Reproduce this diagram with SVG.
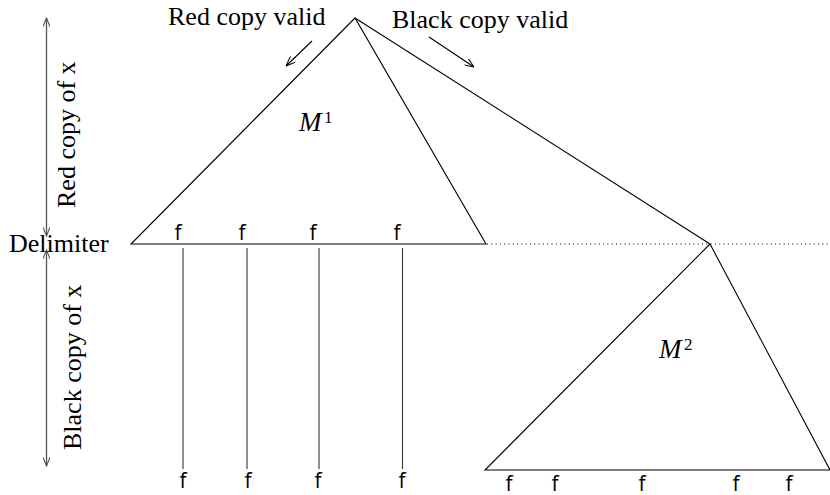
<svg xmlns="http://www.w3.org/2000/svg" width="830" height="495" viewBox="0 0 830 495">
  <style>
    .edge { fill: none; stroke: #000; stroke-width: 1.1; }
    .stem { fill: none; stroke: #333; stroke-width: 1.1; }
    .axis { fill: none; stroke: #555; stroke-width: 1.3; }
    .lbl { font-family: "Liberation Serif", "Times New Roman", serif; font-size: 26px; fill: #000; }
    .f { font-family: "Open Sans", "DejaVu Sans", sans-serif; font-size: 21px; fill: #000; text-anchor: middle; }
    .m { font-family: "Liberation Serif", "Times New Roman", serif; font-style: italic; font-size: 27px; fill: #000; }
    .sup { font-family: "Liberation Serif", "Times New Roman", serif; font-size: 17px; fill: #000; }
  </style>
  <defs>
    <marker id="open" viewBox="0 0 10 8" refX="10" refY="4" markerWidth="10" markerHeight="8" markerUnits="userSpaceOnUse" orient="auto-start-reverse">
      <path d="M0,0 L10,4 L0,8" fill="none" stroke="#000" stroke-width="1"/>
    </marker>
    <marker id="openGray" viewBox="0 0 10 8" refX="10" refY="4" markerWidth="10" markerHeight="7" markerUnits="userSpaceOnUse" orient="auto-start-reverse">
      <path d="M0,0 L10,4 L0,8" fill="none" stroke="#555" stroke-width="1.2"/>
    </marker>
  </defs>

  <!-- left extent arrows for the two copies of x -->
  <g id="extent">
    <line class="axis" x1="46.5" y1="18" x2="46.5" y2="236" marker-start="url(#openGray)" marker-end="url(#openGray)"/>
    <line class="axis" x1="46.5" y1="250" x2="46.5" y2="466" marker-start="url(#openGray)" marker-end="url(#openGray)"/>
    <text class="lbl" transform="translate(75,208) rotate(-90)">Red copy of x</text>
    <text class="lbl" transform="translate(81,450) rotate(-90)">Black copy of x</text>
    <text class="lbl" x="9" y="252">Delimiter</text>
  </g>

  <!-- machine M1 -->
  <g id="M1">
    <polygon class="edge" points="355,18 131,244 486,244"/>
    <text class="m" x="299" y="131">M</text>
    <text class="sup" x="324" y="123">1</text>
    <text class="f" x="178" y="240">f</text>
    <text class="f" x="242" y="240">f</text>
    <text class="f" x="313" y="240">f</text>
    <text class="f" x="397" y="240">f</text>
  </g>

  <!-- machine M2 -->
  <g id="M2">
    <polygon class="edge" points="710,244 485,470 830,470"/>
    <text class="m" x="659" y="358">M</text>
    <text class="sup" x="684" y="350">2</text>
    <text class="f" x="509" y="491">f</text>
    <text class="f" x="555" y="491">f</text>
    <text class="f" x="642" y="491">f</text>
    <text class="f" x="736" y="491">f</text>
    <text class="f" x="789" y="491">f</text>
  </g>

  <!-- output tapes below M1 -->
  <g id="tapes">
    <text class="f" x="183" y="488">f</text>
    <text class="f" x="248" y="488">f</text>
    <text class="f" x="318" y="488">f</text>
    <text class="f" x="402" y="488">f</text>
  </g>

  <!-- validity labels -->
  <g id="labels">
    <text class="lbl" x="168" y="25">Red copy valid</text>
    <text class="lbl" x="392" y="28">Black copy valid</text>
  </g>

  <g id="connectors">
    <line class="edge" x1="355" y1="18" x2="710" y2="244"/>
    <line x1="487" y1="244" x2="830" y2="244" stroke="#000" stroke-width="1" stroke-dasharray="1 3.3"/>
    <line class="stem" x1="183" y1="248" x2="183" y2="469"/>
    <line class="stem" x1="247" y1="248" x2="247" y2="469"/>
    <line class="stem" x1="319" y1="248" x2="319" y2="469"/>
    <line class="stem" x1="402.5" y1="248" x2="402.5" y2="469"/>
    <line class="edge" x1="312" y1="41" x2="286" y2="66" marker-end="url(#open)"/>
    <line class="edge" x1="429" y1="37" x2="474" y2="67" marker-end="url(#open)"/>
  </g>
</svg>
